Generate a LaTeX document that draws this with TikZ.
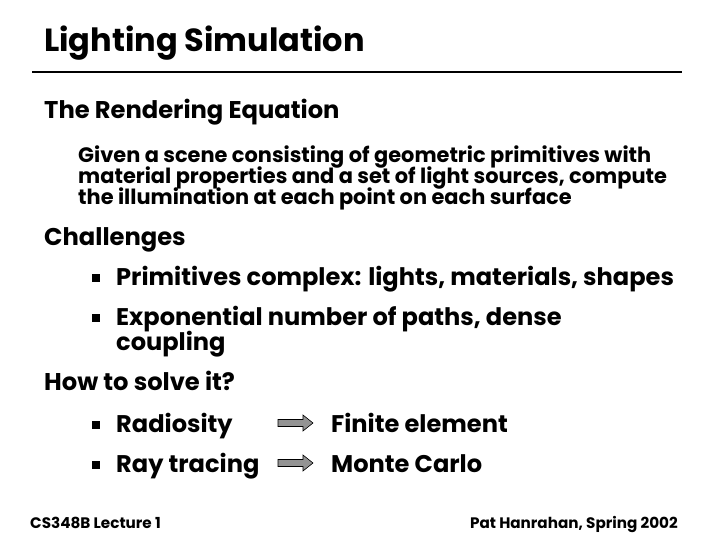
\documentclass[tikz,border=0pt]{standalone}
\usepackage{fontspec}
\setmainfont{Poppins}
\begin{document}
\begin{tikzpicture}[x=1pt,y=-1pt,
  txt/.style={anchor=base west,inner sep=0pt,font=\bfseries},
  ttl/.style={txt,font=\bfseries\fontsize{32}{36}\selectfont},
  hd/.style={txt,font=\bfseries\fontsize{24.2}{26}\selectfont},
  bd/.style={txt,font=\bfseries\fontsize{20.9}{21}\selectfont},
  bl/.style={txt,font=\bfseries\fontsize{24.1}{25}\selectfont},
  ft/.style={txt,font=\bfseries\fontsize{15.2}{15}\selectfont},
  sq/.style={fill=black,minimum size=8pt,inner sep=0pt,anchor=center},
  arr/.style={draw=black,fill=gray!85!white,line width=0.6pt,line join=miter}]
\useasboundingbox (0,0) rectangle (720,540);
\fill[white] (0,0) rectangle (720,540);
\node[ttl] (title) at (44,52) {Lighting Simulation};
\coordinate (l1) at (32,72); \coordinate (l2) at (682,72);
\draw[line width=1.3pt] (l1) -- (l2);
\node[hd] (h1) at (44,119) {The Rendering Equation};
\node[bd] (b1) at (78,163) {Given a scene consisting of geometric primitives with};
\node[bd] (b2) at (78,184) {material properties and a set of light sources, compute};
\node[bd] (b3) at (78,205) {the illumination at each point on each surface};
\node[hd] (h2) at (44,245) {Challenges};
\node[sq] (s1) at (96,278) {};
\node[bl] (c1) at (116,285) {Primitives complex: lights, materials, shapes};
\node[sq] (s2) at (96,318) {};
\node[bl] (c2) at (116,325) {Exponential number of paths, dense};
\node[bl] (c3) at (116,350) {coupling};
\node[hd] (h3) at (44,390) {How to solve it?};
\node[sq] (s3) at (96,425) {};
\node[bl] (r1) at (116,432) {Radiosity};
\coordinate (a1) at (278,423);
\draw[arr] (a1) ++(0,-3.5) -- ++(25,0) -- ++(0,-4.5) -- ++(10,8) -- ++(-10,8) -- ++(0,-4.5) -- ++(-25,0) -- cycle;
\node[bl] (f1) at (331,432) {Finite element};
\node[sq] (s4) at (96,465) {};
\node[bl] (r2) at (116,472) {Ray tracing};
\coordinate (a2) at (278,463);
\draw[arr] (a2) ++(0,-3.5) -- ++(25,0) -- ++(0,-4.5) -- ++(10,8) -- ++(-10,8) -- ++(0,-4.5) -- ++(-25,0) -- cycle;
\node[bl] (f2) at (331,472) {Monte Carlo};
\node[ft] (ft1) at (30,528) {CS348B Lecture 1};
\node[ft,anchor=base east] (ft2) at (678,528) {Pat Hanrahan, Spring 2002};
\end{tikzpicture}
\end{document}
